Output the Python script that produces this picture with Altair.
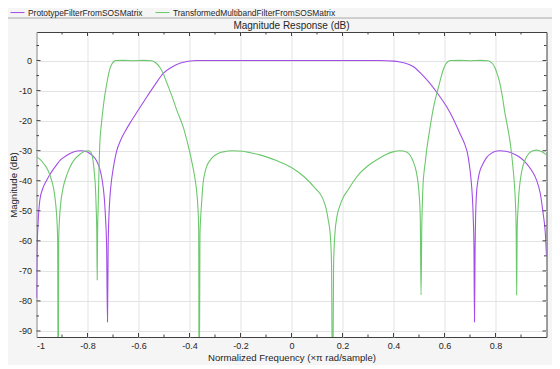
import altair as alt
import pandas as pd

series_names = ["PrototypeFilterFromSOSMatrix", "TransformedMultibandFilterFromSOSMatrix"]
series_colors = ["#a24ee6", "#6cc86c"]
chart_title = ["Magnitude Response (dB)"]

proto_x = [-1.000, -0.998, -0.995, -0.991, -0.987, -0.975, -0.961, -0.948, -0.935, -0.922,
           -0.905, -0.882, -0.860, -0.840, -0.825, -0.805, -0.790, -0.778, -0.765, -0.752,
           -0.745, -0.738, -0.733, -0.729, -0.725, -0.7216, -0.719, -0.716, -0.7125, -0.706,
           -0.700, -0.693, -0.686, -0.670, -0.652, -0.634, -0.600, -0.569, -0.535, -0.503,
           -0.470, -0.438, -0.405, -0.370, -0.200, 0.000, 0.200, 0.346, 0.400, 0.425,
           0.450, 0.477, 0.510, 0.542, 0.575, 0.608, 0.635, 0.660, 0.680, 0.690,
           0.698, 0.704, 0.709, 0.713, 0.7155, 0.7176, 0.720, 0.722, 0.725, 0.731,
           0.738, 0.750, 0.765, 0.785, 0.800, 0.817, 0.840, 0.868, 0.895, 0.921,
           0.945, 0.961, 0.975, 0.987, 0.995, 1.000]
proto_db = [-79, -64, -56, -50, -46.5, -42.5, -40, -38, -36.3, -34.8,
            -33, -31.6, -30.6, -30.1, -30, -30.3, -31, -31.8, -33.3, -36,
            -38.5, -42.5, -47, -53, -62, -87, -62, -52, -46, -40,
            -36.4, -33, -30.2, -26.5, -23.5, -20.9, -16.4, -12.3, -8, -4.3,
            -2.2, -0.9, -0.25, 0, 0, 0, 0, 0, -0.2, -0.5,
            -1.0, -2.0, -4.5, -7.5, -11.2, -15.3, -19.5, -24.2, -28, -30.8,
            -35, -39.5, -45, -53, -62, -87, -62, -52, -45, -40,
            -37, -34.5, -32.3, -30.8, -30.2, -30, -30.2, -30.9, -32.2, -34.2,
            -37, -39.8, -44, -51, -57, -65]

multi_x = [-1.000, -0.985, -0.970, -0.955, -0.942, -0.932, -0.925, -0.920, -0.917, -0.915,
           -0.913, -0.910, -0.905, -0.896, -0.882, -0.869, -0.850, -0.830, -0.810, -0.797,
           -0.789, -0.784, -0.778, -0.773, -0.769, -0.766, -0.7635, -0.762, -0.7605, -0.758,
           -0.756, -0.754, -0.752, -0.746, -0.739, -0.732, -0.725, -0.718, -0.712, -0.705,
           -0.697, -0.690, -0.660, -0.620, -0.580, -0.550, -0.540, -0.530, -0.516, -0.503,
           -0.490, -0.477, -0.464, -0.450, -0.437, -0.425, -0.412, -0.399, -0.389, -0.379,
           -0.372, -0.367, -0.364, -0.362, -0.359, -0.356, -0.353, -0.347, -0.340, -0.333,
           -0.320, -0.307, -0.290, -0.268, -0.229, -0.190, -0.160, -0.124, -0.090, -0.059,
           -0.025, 0.006, 0.040, 0.072, 0.095, 0.111, 0.124, 0.137, 0.144, 0.152,
           0.157, 0.161, 0.165, 0.170, 0.178, 0.189, 0.205, 0.222, 0.245, 0.268,
           0.300, 0.333, 0.365, 0.398, 0.425, 0.451, 0.465, 0.477, 0.488, 0.496,
           0.501, 0.505, 0.508, 0.511, 0.513, 0.516, 0.520, 0.525, 0.529, 0.542,
           0.555, 0.565, 0.575, 0.585, 0.594, 0.604, 0.614, 0.625, 0.660, 0.700,
           0.740, 0.770, 0.778, 0.787, 0.797, 0.807, 0.817, 0.827, 0.837, 0.847,
           0.856, 0.863, 0.869, 0.874, 0.878, 0.881, 0.883, 0.885, 0.888, 0.892,
           0.897, 0.905, 0.922, 0.940, 0.961, 0.980, 1.000]
multi_db = [-32, -33, -34.5, -36.5, -39.5, -43, -47.5, -53, -60, -120,
            -60, -53, -47.5, -42.5, -38.3, -35.5, -32.8, -31.2, -30.2, -30,
            -30.3, -31, -33.5, -37.5, -42, -49, -58, -73, -58, -48,
            -40, -33.5, -28, -21.5, -16, -11.5, -8, -4.8, -2.7, -1.2,
            -0.4, 0, 0.05, -0.05, 0.05, -0.05, -0.3, -0.9, -2.3, -4.3,
            -7.2, -10, -13, -16.5, -19.3, -22, -26, -30.5, -34.5, -39,
            -43.5, -49, -56, -120, -58, -52, -48, -41, -37.5, -35.3,
            -33.3, -32, -31, -30.4, -30, -30.2, -30.7, -31.4, -32.3, -33.3,
            -34.5, -35.9, -38, -40.5, -42.7, -44.2, -46.2, -49.8, -53, -58,
            -68, -120, -68, -58, -52, -48.5, -45.2, -43, -40, -37.5,
            -35, -33.1, -31.5, -30.4, -30, -30.4, -31.5, -33.5, -36.5, -40.5,
            -45, -52, -78, -55, -48, -41, -37, -33.5, -30.5, -23,
            -16.4, -12.5, -9.3, -6, -3.3, -1.3, -0.3, 0, 0.05, -0.05,
            0.05, -0.05, -0.3, -0.9, -2.2, -4.5, -7.5, -12, -17.5, -22,
            -26.4, -31, -36, -41, -47, -56, -78, -56, -50, -44,
            -40, -36, -32, -30.3, -29.8, -30.3, -31.4]

x_label_values = [-1, -0.8, -0.6, -0.4, -0.2, 0, 0.2, 0.4, 0.6, 0.8]
x_major_ticks = [-0.8, -0.6, -0.4, -0.2, 0, 0.2, 0.4, 0.6, 0.8]
x_minor_ticks = [-0.9, -0.7, -0.5, -0.3, -0.1, 0.1, 0.3, 0.5, 0.7, 0.9]
y_major_ticks = [0, -10, -20, -30, -40, -50, -60, -70, -80, -90]
y_minor_ticks = [5, -5, -15, -25, -35, -45, -55, -65, -75, -85]

W, H = 510, 305
FONT = "Liberation Sans"
TXT = "#262626"
AX = "#404040"

df = pd.concat([
    pd.DataFrame({"f": proto_x, "db": proto_db, "series": series_names[0]}),
    pd.DataFrame({"f": multi_x, "db": multi_db, "series": series_names[1]}),
])

xs = alt.Scale(domain=[-1, 1], nice=False, zero=False)
ys = alt.Scale(domain=[-92, 9.5], nice=False, zero=False)

x_axis = alt.Axis(
    values=x_label_values, grid=True, ticks=False, domain=False,
    labelExpr="replace(format(datum.value, '.1~f'), '\u2212', '-')",
    labelFontSize=9, labelPadding=4, labelColor=TXT, labelFont=FONT,
    title="Normalized Frequency (\u00d7\u03c0 rad/sample)", titleFontSize=9.6,
    titleFontWeight="normal", titleColor=TXT, titleFont=FONT, titlePadding=2)
y_axis = alt.Axis(
    values=y_major_ticks, grid=True, ticks=False, domain=False,
    labelExpr="replace(format(datum.value, '~d'), '\u2212', '-')",
    labelFontSize=9, labelPadding=5, labelColor=TXT, labelFont=FONT,
    title="Magnitude (dB)", titleFontSize=9.6, titleFontWeight="normal",
    titleColor=TXT, titleFont=FONT, titlePadding=0)

lines = alt.Chart(df).mark_line(clip=True, strokeWidth=1.1, interpolate="monotone").encode(
    x=alt.X("f:Q", scale=xs, axis=x_axis),
    y=alt.Y("db:Q", scale=ys, axis=y_axis),
    color=alt.Color("series:N", scale=alt.Scale(domain=series_names, range=series_colors),
                    legend=alt.Legend(orient="none", legendX=-26.5, legendY=-27,
                                      direction="horizontal", title=None,
                                      symbolType="stroke", symbolSize=196,
                                      symbolStrokeWidth=1, labelFontSize=8.4,
                                      labelFont=FONT, labelColor=TXT, labelLimit=400,
                                      columnPadding=10, labelOffset=3)),
)


def tick_layer(vals, channel, side, length):
    d = pd.DataFrame({channel: vals})
    base = alt.Chart(d).mark_rule(color=AX, strokeWidth=1)
    if channel == "f":
        y0 = H if side == "bottom" else 0
        y1 = y0 - length if side == "bottom" else length
        return base.encode(x=alt.X("f:Q", scale=xs, axis=x_axis),
                           y=alt.value(y0), y2=alt.value(y1))
    x0 = 0 if side == "left" else W
    x1 = length if side == "left" else W - length
    return base.encode(y=alt.Y("db:Q", scale=ys, axis=y_axis),
                       x=alt.value(x0), x2=alt.value(x1))


ticks = []
for side in ["bottom", "top"]:
    ticks.append(tick_layer(x_major_ticks, "f", side, 4))
    ticks.append(tick_layer(x_minor_ticks, "f", side, 2.5))
for side in ["left", "right"]:
    ticks.append(tick_layer(y_major_ticks, "db", side, 4))
    ticks.append(tick_layer(y_minor_ticks, "db", side, 2.5))

separator = alt.Chart(pd.DataFrame({"k": [0]})).mark_rule(color="#a8a8a8", strokeWidth=1).encode(
    x=alt.value(-30), x2=alt.value(W + 6), y=alt.value(-14))

title_text = alt.Chart(pd.DataFrame({"t": chart_title})).mark_text(
    font=FONT, fontSize=10, color=TXT, align="center", baseline="middle").encode(
    text="t:N", x=alt.value(W / 2), y=alt.value(-6.5))

chart = alt.layer(lines, *ticks, separator, title_text).properties(
    width=W, height=H,
    autosize=alt.AutoSizeParams(type="none"),
    padding={"left": 28.5, "top": 24, "right": 5.5, "bottom": 28},
    background="#f5f5f5",
).configure_view(stroke=AX, strokeWidth=1, fill="white").configure_axis(
    gridColor="#e3e3e3", gridWidth=1)

chart.save("out.html", embed_options={"renderer": "svg", "actions": False})
